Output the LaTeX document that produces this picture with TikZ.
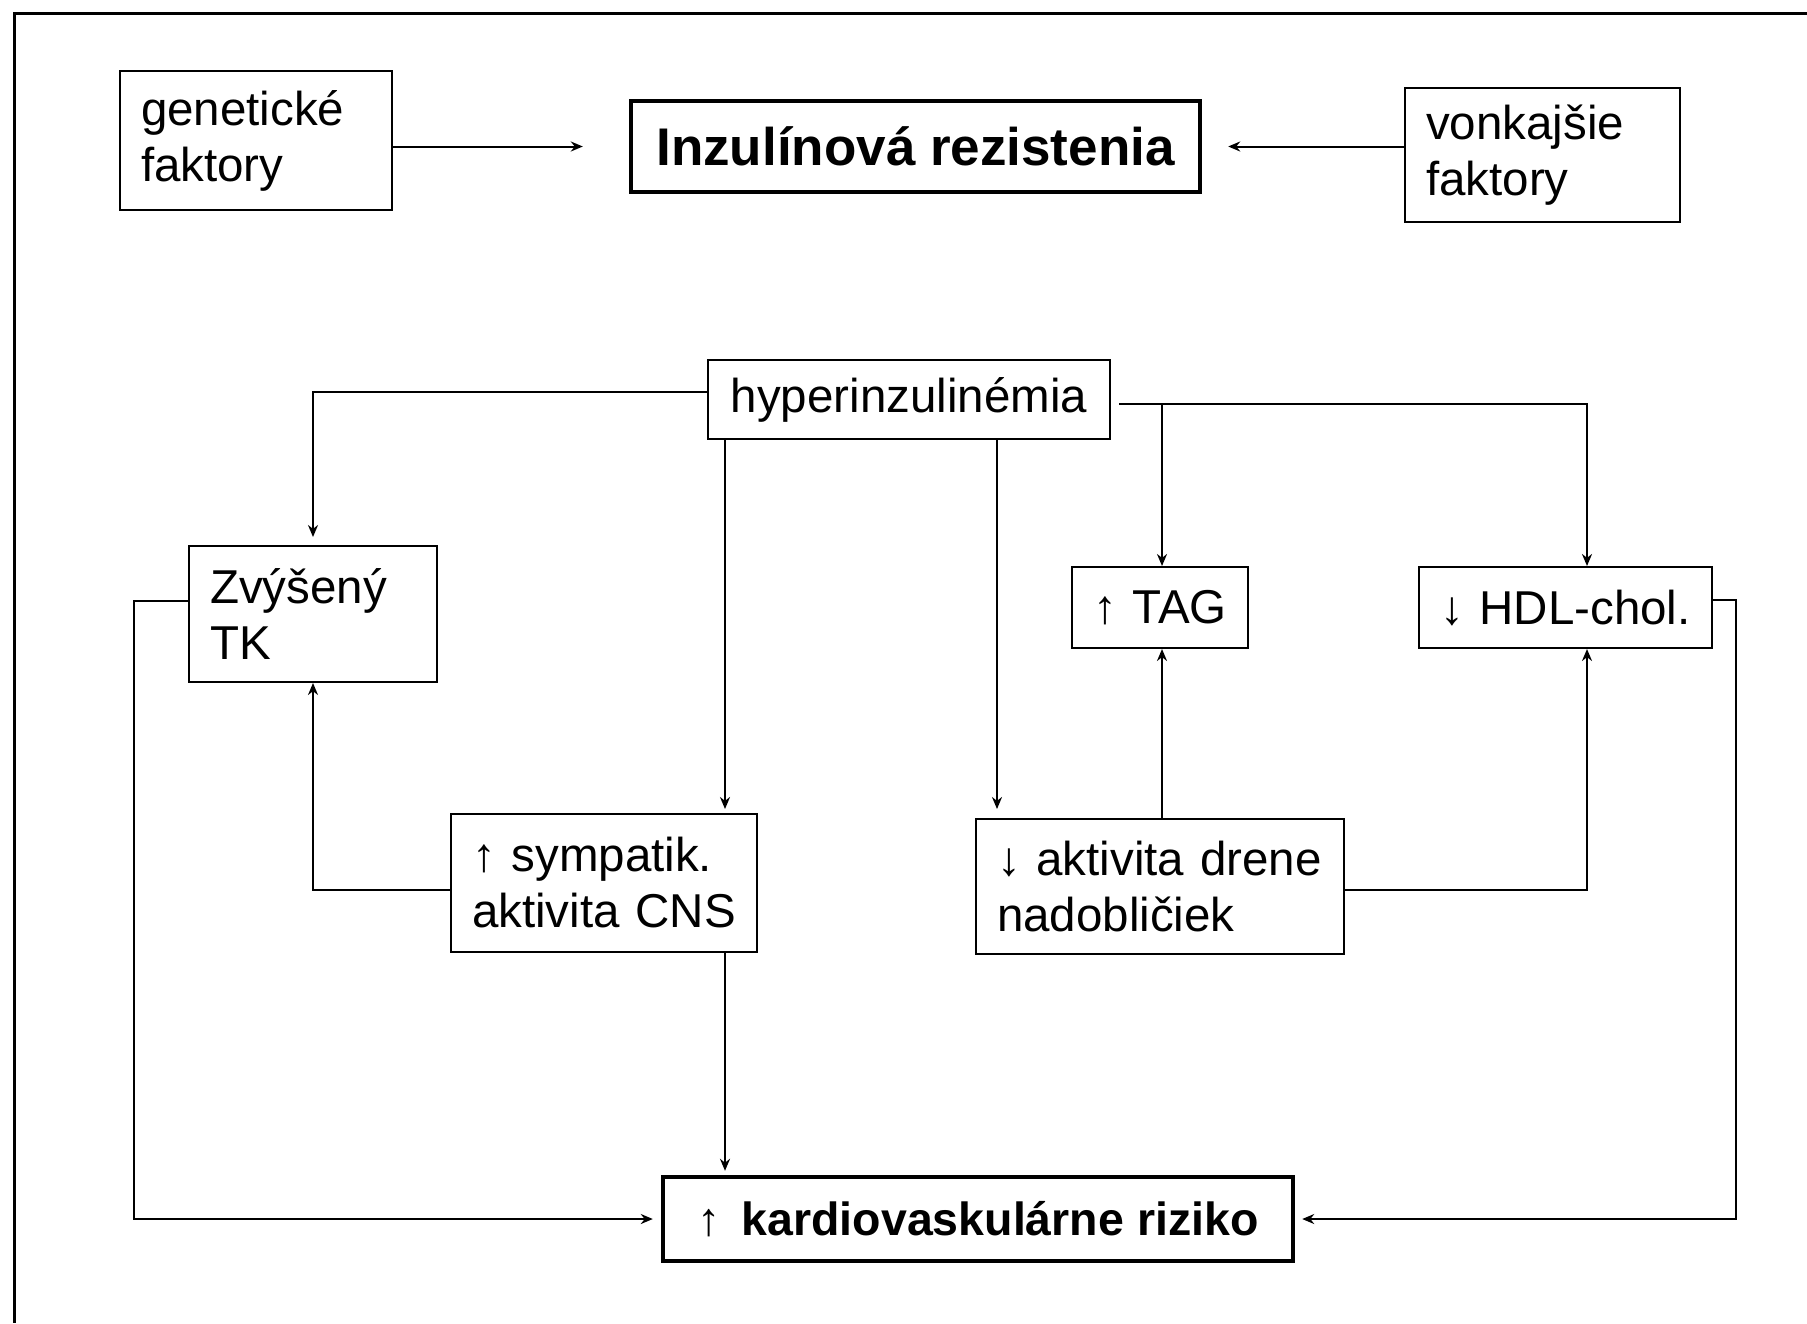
\documentclass[tikz,border=0pt]{standalone}
\usepackage{fontspec}
\setmainfont{Liberation Sans}
\usetikzlibrary{arrows.meta,calc}
\tikzset{
  box/.style={draw, line width=1pt, align=left, inner xsep=10.5pt, inner ysep=0pt,
    font=\fontsize{23.75pt}{28pt}\selectfont},
  thickbox/.style={draw, line width=2.2pt, inner sep=0pt, align=center},
  conn/.style={line width=1pt, -{Stealth[length=6pt,width=5pt]}},
}
\begin{document}
\begin{tikzpicture}[x=0.5pt,y=-0.5pt]
\useasboundingbox (0,0) rectangle (1807,1323);
\draw[line width=1.5pt] (1807,13) -- (14,13) -- (14,1323);

% top row
\node[box, minimum width=136pt, minimum height=69.5pt, text width=115pt] (gen) at (256,140.5) {\raisebox{-2pt}{genetické}\\\raisebox{-2pt}{faktory}};
\node[thickbox, minimum width=284.5pt, minimum height=45.5pt,
  font=\fontsize{26.5pt}{30pt}\selectfont\bfseries] (IR) at (915.5,146.5) {Inzulínová rezistenia};
\node[box, minimum width=137.5pt, minimum height=67pt, text width=116.5pt] (von) at (1542.5,155) {\raisebox{-2pt}{vonkajšie}\\\raisebox{-2pt}{faktory}};

% middle
\node[box, minimum width=201pt, minimum height=39.5pt] (hyper) at (909,399.5) {hyperinzulinémia};
\node[box, minimum width=124pt, minimum height=68pt, text width=103pt] (ztk) at (313,614) {Zvýšený\\TK};
\node[box, minimum width=88pt, minimum height=40.5pt, text width=67pt] (tag) at (1160,607.5) {↑ TAG};
\node[box, minimum width=146.5pt, minimum height=40.5pt, text width=125.5pt] (hdl) at (1565.5,607.5) {↓ HDL-chol.};
\node[box, minimum width=153pt, minimum height=69pt, text width=132pt] (sym) at (604,883) {↑ sympatik.\\aktivita CNS};
\node[box, minimum width=184pt, minimum height=67.5pt, text width=163pt] (dren) at (1160,886.5) {↓ aktivita drene\\nadobličiek};

% bottom
\node[thickbox, minimum width=315pt, minimum height=42pt,
  font=\fontsize{23.25pt}{28pt}\selectfont] (kard) at (978,1219) {↑\hspace{0.45em}\bfseries kardiovaskulárne riziko};

% helper coordinates
\coordinate (symx) at ([xshift=-92pt]hyper.south);
\coordinate (drenx) at ([xshift=44pt]hyper.south);
\coordinate (hr) at ([shift={(4pt,-2.25pt)}]hyper.east);
\coordinate (tagx) at ([xshift=1pt]tag.north);
\coordinate (hdlx) at ([xshift=10.75pt]hdl.north);
\coordinate (lcorner) at (134,1219);
\coordinate (rcorner) at (1736,1219);

% connectors
\draw[conn, shorten >=23pt] (gen.east |- IR.west) -- (IR.west);
\draw[conn, shorten >=13pt] (von.west |- IR.east) -- (IR.east);

\draw[conn, shorten >=4pt] ([yshift=3.75pt]hyper.west) -| (ztk.north);
\draw[conn, shorten >=2pt] (symx) -- (symx |- sym.north);
\draw[conn, shorten >=4.5pt] (drenx) -- (drenx |- dren.north);
\draw[conn] (hr) -| (hdlx |- hdl.north);
\draw[conn] (tagx |- hr) -- (tagx |- tag.north);

\draw[conn] (tagx |- dren.north) -- (tagx |- tag.south);
\draw[conn] ([yshift=-1.75pt]dren.east) -| (hdlx |- hdl.south);
\draw[conn] ([yshift=-3.5pt]sym.west) -| (ztk.south);

\draw[conn, line width=1.2pt, shorten >=4pt] ([yshift=6.5pt]ztk.west) -| (lcorner) -- (kard.west);
\draw[conn, shorten >=2pt] (symx |- sym.south) -- (symx |- kard.north);
\draw[conn, line width=1.2pt, shorten >=3.5pt] ([yshift=3.75pt]hdl.east) -| (rcorner) -- (kard.east);
\end{tikzpicture}
\end{document}
